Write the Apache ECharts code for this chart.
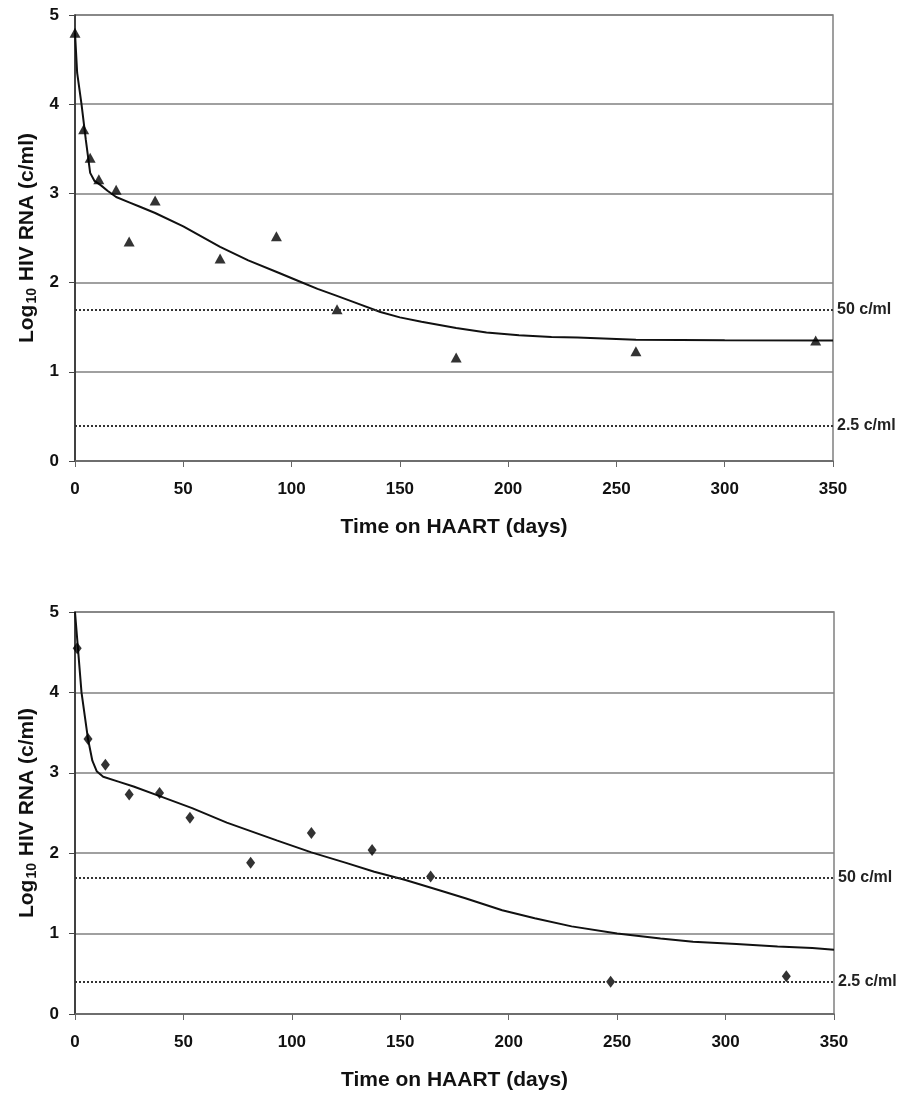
<!DOCTYPE html>
<html>
<head>
<meta charset="utf-8">
<title>HIV RNA decay on HAART</title>
<script src="https://cdn.jsdelivr.net/npm/echarts@6/dist/echarts.min.js"></script>
<style>
  html, body { margin: 0; padding: 0; background: #fff; }
  #main { width: 903px; height: 1094px; }
</style>
</head>
<body>
<div id="main"></div>
<script>
// 上图：三角形观测值 + 拟合曲线
var pt1Days = [0, 4, 7, 11, 19, 25, 37, 67, 93, 121, 176, 259, 342];
var pt1Vals = [4.8, 3.72, 3.4, 3.16, 3.04, 2.46, 2.92, 2.27, 2.52, 1.70, 1.16, 1.23, 1.35];
var fit1Days = [0, 1, 3, 5, 7, 9, 12, 15, 19, 25, 30, 37, 50, 67, 80, 94, 104, 112, 120, 130, 141, 150, 160, 176, 190, 205, 220, 232, 259, 300, 350];
var fit1Vals = [4.8, 4.35, 4.0, 3.6, 3.23, 3.14, 3.09, 3.03, 2.96, 2.9, 2.85, 2.78, 2.63, 2.40, 2.25, 2.11, 2.01, 1.93, 1.86, 1.77, 1.67, 1.61, 1.56, 1.49, 1.44, 1.41, 1.39, 1.385, 1.36, 1.355, 1.35];

// 下图：菱形观测值 + 拟合曲线
var pt2Days = [1, 6, 14, 25, 39, 53, 81, 109, 137, 164, 247, 328];
var pt2Vals = [4.55, 3.42, 3.1, 2.73, 2.75, 2.44, 1.88, 2.25, 2.04, 1.71, 0.40, 0.47];
var fit2Days = [0, 3, 6, 8, 10, 13, 20, 27, 40, 54, 70, 93, 109, 125, 138, 152, 168, 180, 197, 212, 229, 250, 270, 285, 305, 324, 340, 350];
var fit2Vals = [5.0, 4.0, 3.42, 3.15, 3.02, 2.95, 2.89, 2.83, 2.70, 2.56, 2.38, 2.16, 2.01, 1.88, 1.77, 1.67, 1.54, 1.44, 1.29, 1.19, 1.09, 1.00, 0.94, 0.90, 0.87, 0.84, 0.82, 0.80];

// 检测限（log10）
var limitVals = [1.7, 0.4];
var limitLabels = ['50 c/ml', '2.5 c/ml'];

var xTicks = [0, 50, 100, 150, 200, 250, 300, 350];
var yTicks = [0, 1, 2, 3, 4, 5];

var FONT = '"Liberation Sans", Arial, sans-serif';

function pairs(xs, ys) {
  return xs.map(function (x, i) { return [x, ys[i]]; });
}

function limitLines() {
  return {
    silent: true,
    symbol: 'none',
    lineStyle: { type: [2, 2], color: '#333', width: 2 },
    label: {
      show: true,
      position: 'end',
      distance: 4,
      color: '#222',
      fontFamily: FONT,
      fontWeight: 'bold',
      fontSize: 16,
      formatter: function (p) { return limitLabels[p.dataIndex]; }
    },
    data: limitVals.map(function (v) { return { yAxis: v }; })
  };
}

function makeX(gridIndex) {
  return {
    gridIndex: gridIndex,
    type: 'value',
    min: xTicks[0],
    max: xTicks[xTicks.length - 1],
    interval: 50,
    name: 'Time on HAART (days)',
    nameLocation: 'middle',
    nameGap: 56,
    nameTextStyle: { fontFamily: FONT, fontWeight: 'bold', fontSize: 21, color: '#111' },
    axisLine: { lineStyle: { color: '#666', width: 1.5 } },
    axisTick: { show: true, length: 6, lineStyle: { color: '#666' } },
    axisLabel: { margin: 20, fontFamily: FONT, fontWeight: 'bold', fontSize: 17, color: '#111' },
    splitLine: { show: false }
  };
}

function makeY(gridIndex) {
  return {
    gridIndex: gridIndex,
    type: 'value',
    min: yTicks[0],
    max: yTicks[yTicks.length - 1],
    interval: 1,
    name: 'Log{sub|10} HIV RNA (c/ml)',
    nameLocation: 'middle',
    nameGap: 36,
    nameRotate: 90,
    nameTextStyle: {
      fontFamily: FONT, fontWeight: 'bold', fontSize: 21, color: '#111',
      rich: {
        sub: { fontFamily: FONT, fontWeight: 'bold', fontSize: 14, color: '#111', padding: [9, 1, 0, 1] }
      }
    },
    axisLine: { show: true, lineStyle: { color: '#222', width: 1.5 } },
    axisTick: { show: true, length: 6, lineStyle: { color: '#444' } },
    axisLabel: { margin: 16, fontFamily: FONT, fontWeight: 'bold', fontSize: 17, color: '#111' },
    splitLine: { show: true, lineStyle: { color: '#808080', width: 1.5 } }
  };
}

var chart = echarts.init(document.getElementById('main'), null, { renderer: 'canvas' });
chart.setOption({
  backgroundColor: '#fff',
  animation: false,
  grid: [
    { left: 75, top: 15, width: 758, height: 446, show: true, borderColor: '#808080', borderWidth: 1.5 },
    { left: 75, top: 612, width: 759, height: 402, show: true, borderColor: '#808080', borderWidth: 1.5 }
  ],
  xAxis: [makeX(0), makeX(1)],
  yAxis: [makeY(0), makeY(1)],
  series: [
    {
      name: 'fit1',
      type: 'line',
      xAxisIndex: 0, yAxisIndex: 0,
      data: pairs(fit1Days, fit1Vals),
      smooth: false,
      showSymbol: false,
      lineStyle: { color: '#111', width: 2 },
      markLine: limitLines(),
      z: 3
    },
    {
      name: 'obs1',
      type: 'scatter',
      xAxisIndex: 0, yAxisIndex: 0,
      data: pairs(pt1Days, pt1Vals),
      symbol: 'triangle',
      symbolSize: [11, 10],
      itemStyle: { color: '#000' },
      z: 4
    },
    {
      name: 'fit2',
      type: 'line',
      xAxisIndex: 1, yAxisIndex: 1,
      data: pairs(fit2Days, fit2Vals),
      smooth: false,
      showSymbol: false,
      lineStyle: { color: '#111', width: 2 },
      markLine: limitLines(),
      z: 3
    },
    {
      name: 'obs2',
      type: 'scatter',
      xAxisIndex: 1, yAxisIndex: 1,
      data: pairs(pt2Days, pt2Vals),
      symbol: 'diamond',
      symbolSize: [9, 12],
      itemStyle: { color: '#000' },
      z: 4
    }
  ]
});
</script>
</body>
</html>
